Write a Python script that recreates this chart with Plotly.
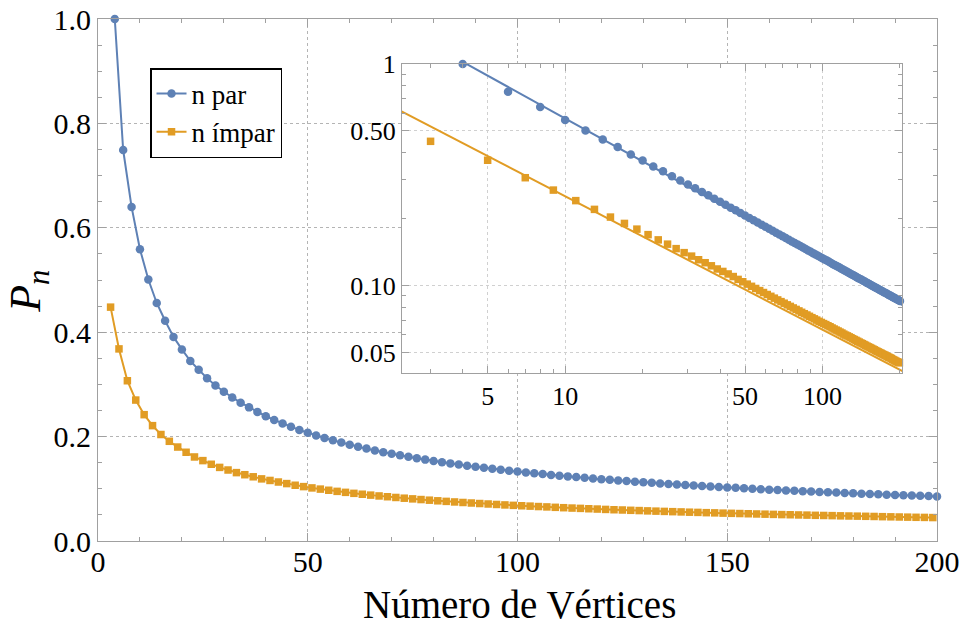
import numpy as np
import plotly.graph_objects as go

# Number of vertices for even / odd n
n_par = list(range(4, 201, 2))
n_impar = list(range(3, 200, 2))

# P_n for even n (n = 4, 6, ..., 200)
p_par = [
    1.000, 0.749, 0.640, 0.559, 0.501, 0.456, 0.422, 0.391, 0.367, 0.345,
    0.328, 0.312, 0.298, 0.286, 0.275, 0.265, 0.256, 0.247, 0.239, 0.232,
    0.225, 0.219, 0.2128, 0.2073, 0.2021, 0.1973, 0.1928, 0.1885, 0.1844, 0.1806,
    0.1770, 0.1735, 0.1702, 0.1671, 0.1641, 0.1613, 0.1585, 0.1559, 0.1534, 0.1510,
    0.1487, 0.1465, 0.1443, 0.1423, 0.1403, 0.1384, 0.1365, 0.1347, 0.1330, 0.1314,
    0.1298, 0.1282, 0.1266, 0.1251, 0.1238, 0.1224, 0.1211, 0.1197, 0.1184, 0.1172,
    0.1160, 0.1148, 0.1136, 0.1124, 0.1114, 0.1103, 0.1093, 0.1082, 0.1072, 0.1063,
    0.1054, 0.1044, 0.1035, 0.1026, 0.1018, 0.1009, 0.1001, 0.0992, 0.0984, 0.0977,
    0.0969, 0.0962, 0.0954, 0.0947, 0.0940, 0.0933, 0.0927, 0.0920, 0.0913, 0.0907,
    0.0901, 0.0894, 0.0888, 0.0882, 0.0876, 0.0871, 0.0865, 0.0860, 0.0854,
]

# P_n for odd n (n = 3, 5, ..., 199)
p_impar = [
    0.448, 0.368, 0.307, 0.270, 0.242, 0.221, 0.204, 0.191, 0.180, 0.170,
    0.161, 0.154, 0.147, 0.141, 0.136, 0.131, 0.127, 0.123, 0.119, 0.116,
    0.113, 0.110, 0.1068, 0.1042, 0.1017, 0.0994, 0.0972, 0.0951, 0.0932, 0.0913,
    0.0896, 0.0879, 0.0863, 0.0848, 0.0834, 0.0820, 0.0807, 0.0794, 0.0782, 0.0770,
    0.0759, 0.0748, 0.0738, 0.0728, 0.0718, 0.0709, 0.0700, 0.0691, 0.0683, 0.0675,
    0.0668, 0.0660, 0.0653, 0.0645, 0.0638, 0.0631, 0.0625, 0.0618, 0.0612, 0.0605,
    0.0599, 0.0594, 0.0588, 0.0583, 0.0577, 0.0572, 0.0567, 0.0562, 0.0557, 0.0552,
    0.0548, 0.0543, 0.0539, 0.0534, 0.0530, 0.0526, 0.0522, 0.0518, 0.0514, 0.0510,
    0.0506, 0.0503, 0.0499, 0.0496, 0.0492, 0.0489, 0.0486, 0.0482, 0.0479, 0.0476,
    0.0473, 0.0470, 0.0466, 0.0463, 0.0460, 0.0457, 0.0454, 0.0452, 0.0449,
]

# Asymptotic power-law fits  P_n ~ a * n**(-b)
fit_par = (2.49, 0.642)
fit_impar = (1.013, 0.602)

# Inset (log-log) axis extents and ticks
inset_xrange = (2.3227, 203.7)
inset_yrange = (0.0404, 1.0)
inset_xticks = [5, 10, 50, 100]
inset_xticktext = ["5", "10", "50", "100"]
inset_yticks = [0.05, 0.1, 0.5, 1]
inset_yticktext = ["0.05", "0.10", "0.50", "1"]
inset_xminor = [3, 4, 6, 7, 8, 9, 20, 30, 40, 60, 70, 80, 90, 200]
inset_yminor = [0.06, 0.07, 0.08, 0.09, 0.2, 0.3, 0.4, 0.6, 0.7, 0.8, 0.9]

BLUE = "#5E81B5"
ORANGE = "#E19C24"
FRAME = "#a0a0a0"
GRID = "#b4b4b4"
SERIF = "Liberation Serif"

fig = go.Figure()

# Main linear plot
fig.add_trace(go.Scatter(
    x=n_par, y=p_par, mode="lines+markers", name="n par",
    line=dict(color=BLUE, width=2),
    marker=dict(symbol="circle", size=8.5, color=BLUE),
    cliponaxis=False,
))
fig.add_trace(go.Scatter(
    x=n_impar, y=p_impar, mode="lines+markers", name="n ímpar",
    line=dict(color=ORANGE, width=2),
    marker=dict(symbol="square", size=7.5, color=ORANGE),
    cliponaxis=False,
))

# Log-log inset: fitted power laws and data points
n_fit = np.geomspace(2.0, 220.0, 200)
for (a, b), color in ((fit_par, BLUE), (fit_impar, ORANGE)):
    fig.add_trace(go.Scatter(
        x=n_fit, y=a * n_fit ** (-b), mode="lines",
        xaxis="x2", yaxis="y2", showlegend=False, hoverinfo="skip",
        line=dict(color=color, width=2),
    ))
fig.add_trace(go.Scatter(
    x=n_par, y=p_par, mode="markers", xaxis="x2", yaxis="y2",
    showlegend=False, cliponaxis=False,
    marker=dict(symbol="circle", size=8.5, color=BLUE),
))
fig.add_trace(go.Scatter(
    x=n_impar, y=p_impar, mode="markers", xaxis="x2", yaxis="y2",
    showlegend=False, cliponaxis=False,
    marker=dict(symbol="square", size=7.5, color=ORANGE),
))

frame_axis = dict(
    showline=True, linecolor=FRAME, linewidth=1, mirror="allticks",
    ticks="inside", tickcolor=FRAME, tickwidth=1, zeroline=False,
    showgrid=True, gridcolor=GRID, gridwidth=1, griddash="dot",
    automargin=False,
)

fig.update_layout(
    width=962, height=628,
    margin=dict(l=98, r=25, t=19, b=87, autoexpand=False),
    paper_bgcolor="white", plot_bgcolor="white",
    font=dict(family=SERIF, size=30, color="black"),
    legend=dict(
        x=0.062, y=0.906, xanchor="left", yanchor="top",
        bgcolor="white", bordercolor="black", borderwidth=1.5,
        font=dict(family=SERIF, size=27, color="black"),
        tracegroupgap=0,
    ),
    xaxis=dict(
        frame_axis, range=[0, 200], tick0=0, dtick=50, ticklen=8,
        tickfont=dict(family=SERIF, size=30), ticklabelstandoff=-6,
        minor=dict(ticks="inside", dtick=10, ticklen=4, tickcolor=FRAME, showgrid=False),
    ),
    yaxis=dict(
        frame_axis, range=[0, 1], tick0=0, dtick=0.2, tickformat=".1f", ticklen=8,
        tickfont=dict(family=SERIF, size=30),
        minor=dict(ticks="inside", dtick=0.05, ticklen=4, tickcolor=FRAME, showgrid=False),
    ),
    xaxis2=dict(
        frame_axis, type="log", domain=[0.3623, 0.9583], anchor="y2",
        range=[np.log10(inset_xrange[0]), np.log10(inset_xrange[1])], tickmode="array",
        tickvals=inset_xticks, ticktext=inset_xticktext, ticklen=7,
        gridcolor="#d0d0d0", tickfont=dict(family=SERIF, size=26),
        minor=dict(ticks="inside", tickvals=inset_xminor, ticklen=4, tickcolor=FRAME, showgrid=False),
    ),
    yaxis2=dict(
        frame_axis, type="log", domain=[0.3218, 0.9138], anchor="x2",
        range=[np.log10(inset_yrange[0]), np.log10(inset_yrange[1])], tickmode="array",
        tickvals=inset_yticks, ticktext=inset_yticktext, ticklen=7,
        gridcolor="#d0d0d0", tickfont=dict(family=SERIF, size=26),
        minor=dict(ticks="inside", tickvals=inset_yminor, ticklen=4, tickcolor=FRAME, showgrid=False),
    ),
    # opaque backdrop of the inset, hiding the main grid behind it
    shapes=[dict(
        type="rect", xref="x2", yref="y2", layer="below",
        x0=inset_xrange[0], x1=inset_xrange[1], y0=inset_yrange[0], y1=inset_yrange[1],
        fillcolor="white", line=dict(width=0),
    )],
    annotations=[
        dict(text="Número de Vértices", x=0.502, y=-0.1226, xref="paper", yref="paper",
             xanchor="center", yanchor="middle", showarrow=False,
             font=dict(family=SERIF, size=39, color="black")),
        dict(text="<i>P</i><sub><i>n</i></sub>", x=-0.083, y=0.478, xref="paper", yref="paper",
             xanchor="center", yanchor="middle", showarrow=False, textangle=-90,
             font=dict(family=SERIF, size=44, color="black")),
    ],
)

fig.write_html("out.html")
